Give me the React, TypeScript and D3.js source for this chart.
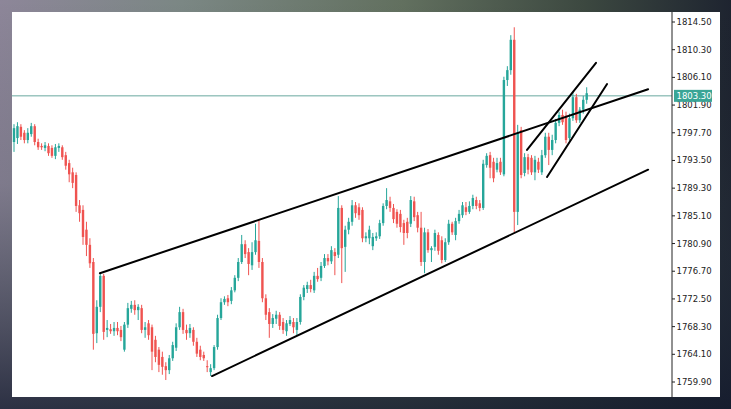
import React from "react";
import * as d3 from "d3";

// OHLC candles (price)
const OPEN = [
  1796.3, 1796.9, 1798.6, 1797.7, 1796.6, 1797.5, 1798.7, 1796.3, 1795.7, 1795.4,
  1795.7, 1795.4, 1794.2, 1795.4, 1795.5, 1794.3, 1793.1, 1791.7, 1791.3, 1786.7,
  1786.0, 1783.0, 1780.7, 1778.1, 1767.3, 1771.3, 1776.0, 1767.8, 1767.9, 1767.6,
  1768.1, 1767.8, 1764.8, 1768.6, 1771.0, 1771.6, 1770.8, 1771.1, 1767.8, 1768.8,
  1768.2, 1766.3, 1764.8, 1763.7, 1762.3, 1761.7, 1763.5, 1765.1, 1768.2, 1770.5,
  1767.8, 1767.3, 1767.8, 1766.0, 1764.8, 1764.0, 1762.3, 1761.4, 1762.0, 1765.2,
  1769.6, 1772.0, 1772.6, 1772.2, 1773.8, 1775.7, 1778.1, 1780.8, 1779.6, 1777.6,
  1779.6, 1781.3, 1778.1, 1772.6, 1770.5, 1768.7, 1769.5, 1770.1, 1769.0, 1767.6,
  1768.7, 1769.0, 1767.8, 1769.0, 1772.8, 1774.0, 1774.6, 1773.8, 1776.0, 1775.7,
  1777.5, 1778.7, 1778.2, 1779.6, 1779.2, 1786.3, 1780.4, 1783.0, 1784.2, 1786.7,
  1786.4, 1786.0, 1781.7, 1781.7, 1780.5, 1781.7, 1782.0, 1784.0, 1786.6, 1787.3,
  1786.3, 1785.7, 1785.4, 1784.0, 1784.2, 1783.9, 1787.3, 1785.2, 1783.3, 1778.1,
  1782.6, 1779.9, 1780.4, 1782.2, 1781.4, 1778.4, 1781.1, 1783.9, 1782.2, 1784.3,
  1785.2, 1786.4, 1785.7, 1786.6, 1787.5, 1787.0, 1786.3, 1792.8, 1794.3, 1793.3,
  1792.1, 1793.3, 1791.4, 1805.7, 1807.2, 1811.8, 1785.7, 1798.1, 1791.6, 1794.0,
  1793.9, 1791.7, 1793.3, 1791.7, 1794.3, 1797.1, 1795.1, 1796.6, 1799.2, 1800.4,
  1800.3, 1796.9, 1799.9, 1803.1, 1799.6, 1801.2, 1802.7,
];
const HIGH = [
  1799.0, 1799.3, 1799.0, 1798.1, 1798.4, 1799.2, 1799.0, 1796.8, 1796.1, 1796.3,
  1796.1, 1795.8, 1796.0, 1796.1, 1795.8, 1794.8, 1793.6, 1792.4, 1791.7, 1787.5,
  1786.7, 1784.2, 1781.7, 1778.7, 1772.3, 1776.4, 1776.3, 1769.3, 1768.7, 1769.0,
  1769.0, 1768.4, 1769.0, 1771.9, 1772.2, 1772.3, 1771.7, 1771.6, 1769.0, 1769.3,
  1768.6, 1766.9, 1765.2, 1764.5, 1762.9, 1764.0, 1766.0, 1768.8, 1771.3, 1771.0,
  1768.6, 1768.7, 1768.2, 1766.6, 1765.4, 1764.5, 1763.2, 1762.6, 1765.5, 1770.1,
  1772.6, 1772.9, 1773.1, 1774.3, 1776.1, 1778.7, 1782.2, 1781.4, 1780.2, 1781.1,
  1783.9, 1784.5, 1778.7, 1773.2, 1771.1, 1770.2, 1770.7, 1770.5, 1769.6, 1769.3,
  1769.9, 1769.6, 1769.6, 1773.2, 1774.6, 1775.1, 1775.4, 1776.6, 1777.2, 1778.1,
  1779.3, 1779.3, 1780.5, 1780.2, 1788.1, 1786.7, 1783.6, 1784.8, 1787.5, 1787.2,
  1787.0, 1786.4, 1782.6, 1783.6, 1782.5, 1782.6, 1784.5, 1787.0, 1789.3, 1788.0,
  1786.9, 1786.1, 1786.0, 1784.5, 1784.8, 1788.1, 1788.0, 1785.7, 1785.7, 1783.3,
  1783.1, 1780.5, 1783.0, 1782.6, 1782.0, 1781.7, 1784.5, 1784.2, 1784.8, 1786.0,
  1787.2, 1787.2, 1787.3, 1788.3, 1788.0, 1787.5, 1793.6, 1794.6, 1794.8, 1793.9,
  1793.9, 1793.9, 1806.2, 1807.8, 1812.5, 1813.7, 1798.9, 1798.6, 1794.6, 1794.5,
  1794.3, 1794.2, 1793.9, 1795.1, 1797.7, 1797.7, 1797.4, 1799.8, 1800.9, 1801.2,
  1800.9, 1800.6, 1803.9, 1803.6, 1801.6, 1803.3, 1804.6,
];
const LOW = [
  1794.8, 1796.0, 1796.6, 1796.1, 1796.1, 1797.1, 1795.8, 1795.1, 1795.1, 1794.9,
  1794.2, 1793.9, 1793.7, 1794.8, 1793.6, 1792.1, 1790.2, 1789.3, 1785.7, 1784.2,
  1780.7, 1779.0, 1777.2, 1764.8, 1765.8, 1770.5, 1766.3, 1766.7, 1767.2, 1766.9,
  1767.0, 1766.1, 1764.5, 1768.1, 1770.4, 1770.1, 1769.3, 1767.3, 1766.6, 1766.3,
  1761.7, 1762.9, 1761.4, 1761.0, 1760.2, 1761.1, 1763.1, 1764.6, 1767.8, 1767.2,
  1766.3, 1766.6, 1765.4, 1763.7, 1763.2, 1763.1, 1761.4, 1760.8, 1761.7, 1764.8,
  1769.3, 1771.6, 1771.4, 1771.7, 1773.5, 1775.2, 1777.8, 1778.7, 1776.1, 1776.9,
  1779.2, 1777.2, 1772.0, 1769.3, 1766.6, 1768.1, 1768.7, 1767.8, 1767.2, 1766.9,
  1768.4, 1767.3, 1767.0, 1768.6, 1772.3, 1773.4, 1773.5, 1773.4, 1775.1, 1775.2,
  1777.2, 1777.6, 1777.8, 1776.1, 1778.7, 1774.9, 1776.6, 1782.3, 1783.6, 1784.8,
  1784.5, 1781.1, 1781.1, 1780.8, 1779.9, 1781.3, 1781.6, 1783.6, 1786.1, 1785.7,
  1784.0, 1783.3, 1782.6, 1780.7, 1781.7, 1783.4, 1784.3, 1782.6, 1777.5, 1776.4,
  1779.5, 1778.1, 1779.8, 1779.2, 1777.9, 1778.1, 1780.7, 1782.2, 1781.4, 1783.9,
  1784.8, 1785.2, 1785.4, 1786.1, 1786.1, 1785.8, 1786.0, 1792.4, 1790.8, 1790.2,
  1791.7, 1791.3, 1791.1, 1804.8, 1806.5, 1782.6, 1783.7, 1790.8, 1791.1, 1791.4,
  1791.3, 1790.5, 1791.6, 1791.3, 1793.9, 1792.8, 1794.3, 1796.1, 1798.7, 1798.9,
  1796.1, 1796.5, 1799.5, 1799.2, 1799.2, 1800.6, 1802.1,
];
const CLOSE = [
  1798.4, 1798.7, 1797.1, 1796.6, 1797.7, 1798.7, 1796.3, 1795.5, 1795.5, 1795.8,
  1794.6, 1794.2, 1795.5, 1795.7, 1794.0, 1792.7, 1791.4, 1790.1, 1786.6, 1785.5,
  1781.9, 1780.7, 1777.9, 1767.2, 1771.3, 1776.0, 1767.5, 1768.1, 1767.6, 1768.1,
  1767.6, 1766.7, 1768.6, 1771.1, 1771.6, 1770.8, 1771.3, 1767.8, 1768.2, 1767.0,
  1764.5, 1763.7, 1762.5, 1762.2, 1761.7, 1763.5, 1765.5, 1768.2, 1770.5, 1767.8,
  1767.3, 1768.1, 1766.0, 1764.2, 1763.7, 1763.5, 1762.2, 1762.0, 1765.2, 1769.6,
  1772.0, 1772.5, 1772.0, 1773.8, 1775.7, 1778.1, 1780.8, 1779.3, 1777.8, 1779.6,
  1781.4, 1778.1, 1772.6, 1770.1, 1768.7, 1769.6, 1770.1, 1768.4, 1767.8, 1768.8,
  1769.3, 1768.2, 1769.0, 1772.8, 1774.2, 1774.6, 1774.0, 1776.0, 1775.5, 1777.5,
  1778.7, 1778.2, 1779.9, 1779.0, 1786.3, 1780.2, 1783.0, 1784.2, 1786.7, 1785.5,
  1785.2, 1781.7, 1782.0, 1783.0, 1781.9, 1782.0, 1784.0, 1786.6, 1787.5, 1786.3,
  1784.6, 1783.9, 1783.4, 1782.5, 1782.5, 1787.5, 1784.9, 1783.3, 1778.1, 1782.6,
  1779.9, 1780.2, 1782.5, 1779.8, 1778.4, 1781.1, 1783.9, 1782.6, 1784.3, 1785.4,
  1786.7, 1785.7, 1786.6, 1787.8, 1786.6, 1786.3, 1793.0, 1794.2, 1792.4, 1790.8,
  1793.1, 1791.7, 1805.7, 1807.2, 1811.8, 1785.7, 1797.7, 1791.3, 1794.0, 1792.1,
  1791.7, 1793.6, 1792.1, 1794.3, 1797.1, 1795.1, 1796.6, 1799.2, 1800.4, 1799.3,
  1796.6, 1799.9, 1803.1, 1799.6, 1801.2, 1802.7, 1803.7,
];

// price axis tick labels
const TICKS = [
  1814.5, 1810.3, 1806.1, 1801.9, 1797.7, 1793.5, 1789.3, 1785.1, 1780.9,
  1776.7, 1772.5, 1768.3, 1764.1, 1759.9,
];

const CURRENT_PRICE = 1803.3;

// hand-drawn trend lines: [startIndex, startPrice, endIndex, endPrice]
const TREND_START_INDEX = [24.9, 57.4, 148.7, 154.5];
const TREND_START_PRICE = [1776.4, 1760.8, 1795.1, 1791.0];
const TREND_END_INDEX = [183.8, 183.8, 168.7, 171.9];
const TREND_END_PRICE = [1804.3, 1792.1, 1808.3, 1805.1];

const W = 731;
const H = 409;
const UP = "#26a69a";
const DOWN = "#ef5350";

export default function App() {
  const n = CLOSE.length;
  const x = d3.scaleLinear().domain([0, n - 1]).range([14, 586.7]);
  const y = d3.scaleLinear().domain([1759.9, 1814.5]).range([382, 22]);
  const fmt = d3.format(".2f");
  const bodyW = 2.4;
  const axisX = 672;
  const cy = y(CURRENT_PRICE);

  return (
    <svg
      width={W}
      height={H}
      style={{ position: "absolute", left: 0, top: 0, display: "block" }}
      fontFamily="'DejaVu Sans', Verdana, sans-serif"
    >
      <defs>
        <linearGradient id="bgH" x1="0" y1="0" x2="1" y2="0">
          <stop offset="0%" stopColor="#8d8699" />
          <stop offset="25%" stopColor="#7b8784" />
          <stop offset="55%" stopColor="#62705f" />
          <stop offset="80%" stopColor="#3c4840" />
          <stop offset="100%" stopColor="#1e2430" />
        </linearGradient>
        <linearGradient id="bgV" x1="0" y1="0" x2="0" y2="1">
          <stop offset="0%" stopColor="#0e1420" stopOpacity={0} />
          <stop offset="45%" stopColor="#2a3540" stopOpacity={0.15} />
          <stop offset="100%" stopColor="#141b2e" stopOpacity={0.8} />
        </linearGradient>
      </defs>
      <rect x={0} y={0} width={W} height={H} fill="url(#bgH)" />
      <rect x={0} y={0} width={W} height={H} fill="url(#bgV)" />
      <rect x={12} y={12} width={708} height={385} fill="#ffffff" />

      {/* current price line */}
      <line x1={12} x2={axisX} y1={cy} y2={cy} stroke="#6aa99f" strokeWidth={1} />

      {/* candles */}
      {CLOSE.map((c, i) => {
        const o = OPEN[i];
        const up = c >= o;
        const col = up ? UP : DOWN;
        const top = y(Math.max(o, c));
        const bot = y(Math.min(o, c));
        return (
          <g key={i}>
            <line
              x1={x(i)}
              x2={x(i)}
              y1={y(HIGH[i])}
              y2={y(LOW[i])}
              stroke={col}
              strokeWidth={1}
            />
            <rect
              x={x(i) - bodyW / 2}
              y={top}
              width={bodyW}
              height={Math.max(1, bot - top)}
              fill={col}
            />
          </g>
        );
      })}

      {/* trend lines */}
      {TREND_START_INDEX.map((s, k) => (
        <line
          key={k}
          x1={x(s)}
          y1={y(TREND_START_PRICE[k])}
          x2={x(TREND_END_INDEX[k])}
          y2={y(TREND_END_PRICE[k])}
          stroke="#000"
          strokeWidth={2}
          strokeLinecap="round"
        />
      ))}

      {/* price axis */}
      <line x1={axisX} x2={axisX} y1={12} y2={397} stroke="#222" strokeWidth={1} />
      {TICKS.map((t) => (
        <g key={t} transform={`translate(${axisX},${y(t)})`}>
          <line x1={0} x2={3} y1={0} y2={0} stroke="#222" />
          <text x={4.5} y={0} dy="0.35em" fontSize={8.5} fill="#222">
            {fmt(t)}
          </text>
        </g>
      ))}

      {/* current price label */}
      <rect x={axisX + 2} y={cy - 6} width={38} height={12} fill="#3aa596" />
      <text x={axisX + 4.5} y={cy} dy="0.35em" fontSize={8.5} fill="#ffffff">
        {fmt(CURRENT_PRICE)}
      </text>
    </svg>
  );
}
